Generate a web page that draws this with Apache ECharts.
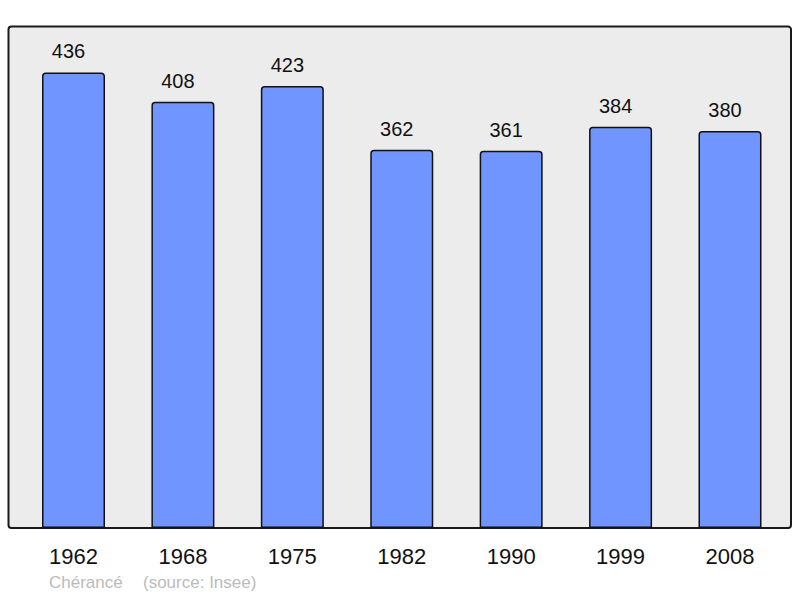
<!DOCTYPE html>
<html>
<head>
<meta charset="utf-8">
<script src="https://cdn.jsdelivr.net/npm/echarts@6/dist/echarts.min.js"></script>
<style>html,body{margin:0;padding:0;background:#fff;}#c{width:800px;height:598px;}</style>
</head>
<body>
<div id="c"></div>
<script>
const years = ['1962','1968','1975','1982','1990','1999','2008'];
const population = [436, 408, 423, 362, 361, 384, 380];
const yMax = 480;

const chart = echarts.init(document.getElementById('c'), null, {renderer: 'svg'});
chart.setOption({
  animation: false,
  backgroundColor: '#ffffff',
  grid: {left: 18.8, right: 15.3, top: 26.5, bottom: 70, containLabel: false},
  graphic: [
    {type: 'rect', z: -10, silent: true,
     shape: {x: 8.5, y: 26.5, width: 782.5, height: 501.5, r: 3},
     style: {fill: '#ececec', stroke: '#1a1a1a', lineWidth: 2}},
    {type: 'text', left: 49, top: 574,
     style: {text: 'Chérancé', fill: '#bbbbbb', font: '17px "Liberation Sans", Arial, sans-serif'}},
    {type: 'text', left: 143, top: 574,
     style: {text: '(source: Insee)', fill: '#bbbbbb', font: '17px "Liberation Sans", Arial, sans-serif'}}
  ],
  xAxis: {
    type: 'category', data: years,
    axisLine: {show: false}, axisTick: {show: false}, splitLine: {show: false},
    axisLabel: {color: '#111', fontSize: 22, fontFamily: 'Liberation Sans, Arial, sans-serif', margin: 17}
  },
  yAxis: {type: 'value', min: 0, max: yMax, show: false, splitLine: {show: false}},
  series: [{
    type: 'bar', data: population, barWidth: 63,
    itemStyle: {color: '#7095ff', borderColor: '#111', borderWidth: 1.5, borderRadius: [3,3,0,0]},
    label: {show: true, position: 'top', distance: 11, offset: [-5, 0], color: '#111', fontSize: 20,
            fontFamily: 'Liberation Sans, Arial, sans-serif'}
  }]
});
</script>
</body>
</html>
